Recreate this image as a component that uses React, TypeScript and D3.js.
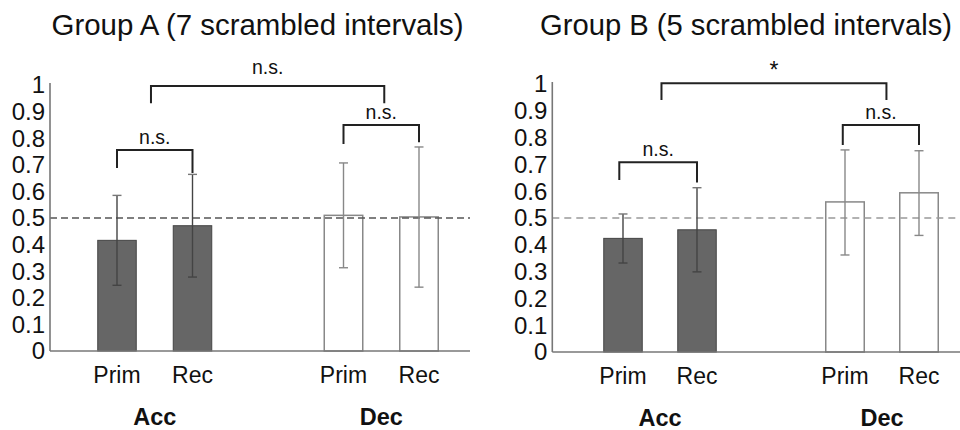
import React from "react";
import * as d3 from "d3";

const categories = ["Prim", "Rec", "Prim", "Rec"];
const slots = [0, 1, 3, 4];
const groupLabels = ["Acc", "Dec"];
const groupSlots = [0.5, 3.5];
const filled = [true, true, false, false];
const yTickValues = [0, 0.1, 0.2, 0.3, 0.4, 0.5, 0.6, 0.7, 0.8, 0.9, 1];
const yTickLabels = ["0", "0.1", "0.2", "0.3", "0.4", "0.5", "0.6", "0.7", "0.8", "0.9", "1"];
const chanceLevel = 0.5;

const titleA = "Group A (7 scrambled intervals)";
const meansA = [0.416, 0.471, 0.51, 0.504];
const errLowA = [0.247, 0.278, 0.313, 0.24];
const errHighA = [0.585, 0.664, 0.707, 0.767];
const bracketsA = [
  { from: 0, to: 1, level: 0.756, legFrom: 0.688, legTo: 0.669, label: "n.s.", big: false },
  { from: 3, to: 4, level: 0.85, legFrom: 0.778, legTo: 0.785, label: "n.s.", big: false },
  { from: 0.45, to: 3.54, level: 0.996, legFrom: 0.931, legTo: 0.931, label: "n.s.", big: true },
];

const titleB = "Group B (5 scrambled intervals)";
const meansB = [0.424, 0.456, 0.56, 0.594];
const errLowB = [0.332, 0.299, 0.362, 0.435];
const errHighB = [0.515, 0.613, 0.754, 0.751];
const bracketsB = [
  { from: -0.05, to: 1, level: 0.708, legFrom: 0.642, legTo: 0.632, label: "n.s.", big: false },
  { from: 2.97, to: 4, level: 0.847, legFrom: 0.772, legTo: 0.772, label: "n.s.", big: false },
  { from: 0.52, to: 3.56, level: 1.003, legFrom: 0.94, legTo: 0.94, label: "*", big: true },
];

const FONT = "'Liberation Sans', Arial, Helvetica, sans-serif";

type Bracket = { from: number; to: number; level: number; legFrom: number; legTo: number; label: string; big: boolean };

function Panel(props: {
  title: string;
  titleX: number;
  means: number[];
  errLow: number[];
  errHigh: number[];
  brackets: Bracket[];
  axisX: number;
  axisEnd: number;
  x0: number;
  step: number;
  y0: number;
  y1: number;
  dashColor: string;
  dash: string;
}) {
  const { title, titleX, means, errLow, errHigh, brackets, axisX, axisEnd, x0, step, y0, y1, dashColor, dash } = props;
  const x = d3.scaleLinear().domain([0, 4]).range([x0, x0 + 4 * step]);
  const y = d3.scaleLinear().domain([0, 1]).range([y0, y1]);
  const barW = 38.5;
  const capW = 9;
  return (
    <g>
      <text x={titleX} y={35} textAnchor="middle" fontFamily={FONT} fontSize={29.5} fill="#111" textLength={412} lengthAdjust="spacingAndGlyphs">
        {title}
      </text>
      {yTickValues.map((v, i) => (
        <text key={i} x={axisX - 5} y={y(v) + 8.3} textAnchor="end" fontFamily={FONT} fontSize={24} fill="#111">
          {yTickLabels[i]}
        </text>
      ))}
      {means.map((m, i) => (
        <rect
          key={"b" + i}
          x={x(slots[i]) - barW / 2}
          y={y(m)}
          width={barW}
          height={y(0) - y(m)}
          fill={filled[i] ? "#666" : "#fff"}
          stroke={filled[i] ? "#444" : "#888"}
          strokeWidth={filled[i] ? 1 : 1.5}
        />
      ))}
      <line x1={axisX} x2={axisEnd} y1={y(chanceLevel)} y2={y(chanceLevel)} stroke={dashColor} strokeWidth={1.6} strokeDasharray={dash} />
      {means.map((m, i) => {
        const cx = x(slots[i]);
        const col = filled[i] ? "#444" : "#888";
        return (
          <g key={"e" + i} stroke={col} strokeWidth={1.4}>
            <line x1={cx} x2={cx} y1={y(errHigh[i])} y2={y(errLow[i])} />
            <line x1={cx - capW / 2} x2={cx + capW / 2} y1={y(errHigh[i])} y2={y(errHigh[i])} stroke={filled[i] ? "#777" : "#888"} />
            <line x1={cx - capW / 2} x2={cx + capW / 2} y1={y(errLow[i])} y2={y(errLow[i])} />
          </g>
        );
      })}
      <line x1={axisX} x2={axisX} y1={y(0)} y2={y(1) - 2} stroke="#777" strokeWidth={1.6} />
      <line x1={axisX} x2={axisEnd} y1={y(0)} y2={y(0)} stroke="#777" strokeWidth={1.6} />
      {categories.map((c, i) => (
        <text key={"c" + i} x={x(slots[i])} y={y0 + 31.5} textAnchor="middle" fontFamily={FONT} fontSize={23} fill="#111">
          {c}
        </text>
      ))}
      {groupLabels.map((g, i) => (
        <text key={"g" + i} x={x(groupSlots[i])} y={y0 + 73.5} textAnchor="middle" fontFamily={FONT} fontSize={23.5} fontWeight="bold" fill="#111">
          {g}
        </text>
      ))}
      {brackets.map((b, i) => {
        const xa = x(b.from);
        const xb = x(b.to);
        const path = `M${xa},${y(b.legFrom)} V${y(b.level)} H${xb} V${y(b.legTo)}`;
        const isStar = b.label === "*";
        return (
          <g key={"k" + i}>
            <path d={path} fill="none" stroke="#222" strokeWidth={2} />
            <text
              x={(xa + xb) / 2}
              y={y(b.level) - (isStar ? 5 : b.big ? 12 : 6)}
              textAnchor="middle"
              fontFamily={FONT}
              fontSize={isStar ? 23 : 19.5}
              fill="#111"
            >
              {b.label}
            </text>
          </g>
        );
      })}
    </g>
  );
}

export default function App() {
  return (
    <svg width={960} height={430} style={{ position: "absolute", left: 0, top: 0, background: "#fff" }}>
      <rect width={960} height={430} fill="#fff" />
      <Panel
        title={titleA}
        titleX={257.5}
        means={meansA}
        errLow={errLowA}
        errHigh={errHighA}
        brackets={bracketsA}
        axisX={50}
        axisEnd={470}
        x0={117}
        step={75.5}
        y0={351}
        y1={85}
        dashColor="#555"
        dash="7,4"
      />
      <Panel
        title={titleB}
        titleX={746}
        means={meansB}
        errLow={errLowB}
        errHigh={errHighB}
        brackets={bracketsB}
        axisX={552.3}
        axisEnd={972}
        x0={623}
        step={74}
        y0={352}
        y1={84}
        dashColor="#999"
        dash="7,5"
      />
    </svg>
  );
}
